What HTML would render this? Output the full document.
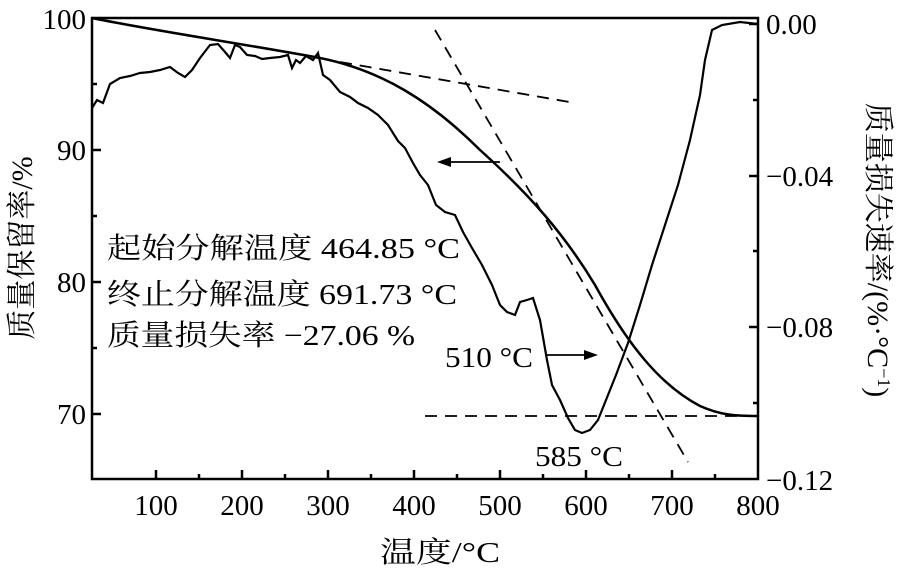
<!DOCTYPE html><html><head><style>body{margin:0;background:#fff}svg{display:block}text{font-family:"Liberation Serif","Noto Serif CJK SC",serif;fill:#000}</style></head><body>
<svg width="900" height="575" viewBox="0 0 900 575">
<g stroke="#000" stroke-width="2.5" fill="none">
<rect x="92" y="18" width="666" height="461"/>
<path d="M156,479v-9M242,479v-9M328,479v-9M414,479v-9M500,479v-9M586,479v-9M672,479v-9M199,479v-5M285,479v-5M371,479v-5M457,479v-5M543,479v-5M629,479v-5M715,479v-5"/>
<path d="M92,150h9M92,282h9M92,414h9M92,84h5M92,216h5M92,348h5"/>
<path d="M758,24h-9M758,176h-9M758,327h-9M758,100h-5M758,251h-5M758,403h-5"/>
</g>
<path fill="none" stroke="#000" stroke-width="2.5" d="M92,18 C150,30 250,45 320,58 C380,70 430,100 480,150 C530,195 565,235 595,285 C628,345 660,385 700,406 C720,415 735,416 758,416"/>
<path fill="none" stroke="#000" stroke-width="2.2" d="M92,108L97,100L103,103L110,84L120,78L130,76L140,73L150,72L160,70L170,67L178,73L185,77L192,70L200,58L210,45L218,44L225,52L230,58L235,45L240,47L247,55L255,56L262,59L270,58L280,57L288,55L292,68L296,60L300,63L306,56L313,60L318,53L323,75L330,80L340,92L350,97L358,103L368,108L378,115L388,125L398,141L405,148L413,163L420,175L428,185L436,205L445,212L455,215L463,232L472,248L482,265L492,285L500,305L507,312L515,315L520,302L527,300L533,298L540,320L547,360L552,385L560,400L568,418L575,430L582,433L590,430L598,420L606,400L616,375L628,343L640,305L652,265L665,225L678,185L690,140L700,95L705,60L712,30L722,25L740,22L758,24"/>
<g stroke="#000" stroke-width="1.8" stroke-dasharray="12,8" fill="none">
<path d="M340,62L575,103"/><path d="M435,30L688,462"/><path d="M425,416H757"/>
</g>
<g stroke="#000" stroke-width="1.8"><path d="M500,162H445"/><path d="M545,355H590"/></g>
<path d="M437,162l14,-5v10z M598,355l-14,-5v10z"/>
<g font-size="29">
<text x="86" y="29" text-anchor="end">100</text><text x="86" y="160" text-anchor="end">90</text><text x="86" y="292" text-anchor="end">80</text><text x="86" y="424" text-anchor="end">70</text>
<text x="766" y="34">0.00</text><text x="766" y="186">−0.04</text><text x="766" y="337">−0.08</text><text x="766" y="490">−0.12</text>
<g text-anchor="middle"><text x="156" y="515">100</text><text x="242" y="515">200</text><text x="328" y="515">300</text><text x="414" y="515">400</text><text x="500" y="515">500</text><text x="586" y="515">600</text><text x="672" y="515">700</text><text x="758" y="515">800</text></g>
<text x="380" y="562" textLength="120" lengthAdjust="spacingAndGlyphs">温度/°C</text>
<text transform="translate(32,248) rotate(-90)" text-anchor="middle" font-size="30">质量保留率/%</text>
<text transform="translate(868,250) rotate(90)" text-anchor="middle" font-size="30">质量损失速率/(%·°C<tspan font-size="18" dy="-10">−1</tspan><tspan dy="10">)</tspan></text>
<text x="107" y="258" textLength="353" lengthAdjust="spacingAndGlyphs">起始分解温度 464.85 °C</text>
<text x="107" y="304" textLength="350" lengthAdjust="spacingAndGlyphs">终止分解温度 691.73 °C</text>
<text x="107" y="345" textLength="308" lengthAdjust="spacingAndGlyphs">质量损失率 −27.06 %</text>
<text x="445" y="367" textLength="88" lengthAdjust="spacingAndGlyphs">510 °C</text>
<text x="535" y="466" textLength="88" lengthAdjust="spacingAndGlyphs">585 °C</text>
</g>
</svg></body></html>
